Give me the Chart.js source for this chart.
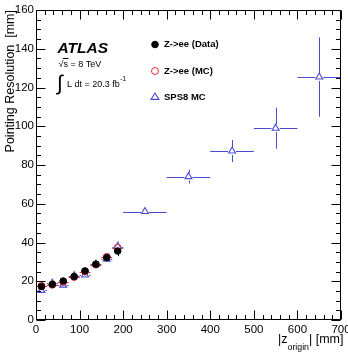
<!DOCTYPE html>
<html><head><meta charset="utf-8">
<script src="https://cdn.jsdelivr.net/npm/chart.js@4"></script>
<style>html,body{margin:0;padding:0;background:#fff}#wrap{width:348px;height:354px}</style>
</head><body><div id="wrap"><canvas id="c"></canvas></div>
<script>
// ---------- data ----------
const zCentres   = [12.5, 37.5, 62.5, 87.5, 112.5, 137.5, 162.5, 187.5];
const zHalfWidth = [12.5, 12.5, 12.5, 12.5, 12.5, 12.5, 12.5, 12.5];
const dataRes    = [17.3, 18.4, 20.1, 22.4, 25.3, 28.8, 32.2, 35.6];
const dataErr    = [1.3, 1.3, 1.3, 1.3, 1.4, 1.5, 1.8, 2.6];
const mcRes      = [17.6, 18.2, 19.6, 22.2, 25.0, 28.6, 32.6, 37.3];
const mcErr      = [0.8, 0.8, 0.8, 0.9, 0.9, 1.0, 1.2, 1.5];
const spsZ       = [12.5, 37.5, 62.5, 87.5, 112.5, 137.5, 162.5, 187.5, 250, 350, 450, 550, 650];
const spsZHalf   = [12.5, 12.5, 12.5, 12.5, 12.5, 12.5, 12.5, 12.5, 50, 50, 50, 50, 50];
const spsRes     = [15.3, 19.0, 18.0, 22.9, 23.2, 28.9, 31.4, 37.9, 56.0, 74.0, 87.2, 99.0, 125.4];
const spsErr     = [1.6, 1.8, 1.6, 1.6, 1.6, 1.6, 1.8, 2.6, 1.2, 3.6, 5.7, 10.6, 20.5];
const xTicks = [0, 100, 200, 300, 400, 500, 600, 700];
const yTicks = [0, 20, 40, 60, 80, 100, 120, 140, 160];
const xMinorStep = 20, yMinorStep = 5;
const legendLabels = ['Z->ee (Data)', 'Z->ee (MC)', 'SPS8 MC'];
const xTitle = ['|z', 'origin', '| [mm]'];
const yTitle = 'Pointing Resolution  [mm]';
const atlasLabel = 'ATLAS';
const energyLabel = 's = 8 TeV';
const lumiLabel = ['L dt = 20.3 fb', '-1'];

const FONT = '"Liberation Sans", Arial, Helvetica, sans-serif';
const BLUE = '#4b4bd6';
const RED = '#ee2a3a';

const pts = (xs, ys) => xs.map((x, i) => ({x: x, y: ys[i]}));

const datasets = [
  {label: legendLabels[0], data: pts(zCentres, dataRes), xErr: zCentres.map(() => 0), yErr: dataErr,
   pointStyle: 'circle', pointRadius: 3.3, backgroundColor: '#000', borderColor: '#000', borderWidth: 1, errColor: '#000'},
  {label: legendLabels[1], data: pts(zCentres, mcRes), xErr: zHalfWidth, yErr: mcErr,
   pointStyle: 'circle', pointRadius: 3.5, backgroundColor: 'rgba(0,0,0,0)', borderColor: RED, borderWidth: 1, errColor: RED},
  {label: legendLabels[2], data: pts(spsZ, spsRes), xErr: spsZHalf, yErr: spsErr,
   pointStyle: 'triangle', pointRadius: 4, backgroundColor: '#fff', borderColor: BLUE, borderWidth: 1.1, errColor: BLUE}
];

// ---------- plugins ----------
const errorBars = {
  id: 'errorBars',
  beforeDatasetsDraw(chart) {
    const {ctx, scales: {x, y}} = chart;
    ctx.save();
    ctx.lineWidth = 1;
    chart.data.datasets.forEach(ds => {
      ctx.strokeStyle = ds.errColor;
      const gap = ds.pointRadius;
      ds.data.forEach((p, i) => {
        const px = x.getPixelForValue(p.x), py = y.getPixelForValue(p.y);
        const x0 = x.getPixelForValue(p.x - ds.xErr[i]), x1 = x.getPixelForValue(p.x + ds.xErr[i]);
        const y0 = y.getPixelForValue(p.y - ds.yErr[i]), y1 = y.getPixelForValue(p.y + ds.yErr[i]);
        ctx.beginPath();
        const ry = Math.round(py) + 0.5, rx = Math.round(px) + 0.5;
        if (px - x0 > gap) { ctx.moveTo(x0, ry); ctx.lineTo(px - gap, ry); ctx.moveTo(px + gap, ry); ctx.lineTo(x1, ry); }
        if (y0 - py > gap) { ctx.moveTo(rx, y0); ctx.lineTo(rx, py + gap); ctx.moveTo(rx, py - gap); ctx.lineTo(rx, y1); }
        ctx.stroke();
      });
    });
    ctx.restore();
  }
};

const frameTicks = {
  id: 'frameTicks',
  afterDraw(chart) {
    const {ctx, chartArea: a, scales: {x, y}} = chart;
    const L = Math.round(a.left) + 0.5, R = Math.round(a.right) - 0.5;
    const T = Math.round(a.top) + 0.5, B = Math.round(a.bottom) - 0.5;
    ctx.save();
    ctx.strokeStyle = '#000'; ctx.lineWidth = 1;
    ctx.strokeRect(L, T, R - L, B - T);
    ctx.beginPath();
    for (let v = x.min; v <= x.max + 1e-6; v += xMinorStep) {
      const px = Math.round(x.getPixelForValue(v)) + 0.5;
      const len = xTicks.includes(v) ? 9 : 4.5;
      ctx.moveTo(px, B); ctx.lineTo(px, B - len);
      ctx.moveTo(px, T); ctx.lineTo(px, T + len);
    }
    for (let v = y.min; v <= y.max + 1e-6; v += yMinorStep) {
      const py = Math.round(y.getPixelForValue(v)) + 0.5;
      const len = yTicks.includes(v) ? 9 : 4.5;
      ctx.moveTo(L, py); ctx.lineTo(L + len, py);
      ctx.moveTo(R, py); ctx.lineTo(R - len, py);
    }
    ctx.stroke();

    // axis titles
    ctx.fillStyle = '#000';
    ctx.font = '12.5px ' + FONT;
    ctx.save();
    ctx.translate(14, a.top);
    ctx.rotate(-Math.PI / 2);
    ctx.textAlign = 'right'; ctx.textBaseline = 'alphabetic';
    ctx.fillText(yTitle, 0, 0);
    ctx.restore();

    ctx.textAlign = 'left'; ctx.textBaseline = 'alphabetic';
    let tx = 278;
    ctx.font = '12.5px ' + FONT;
    ctx.fillText(xTitle[0], tx, 342.5); tx += ctx.measureText(xTitle[0]).width;
    ctx.font = '8.8px ' + FONT;
    ctx.fillText(xTitle[1], tx, 349.5); tx += ctx.measureText(xTitle[1]).width;
    ctx.font = '12.5px ' + FONT;
    ctx.fillText(xTitle[2], tx, 342.5);

    // ATLAS label
    ctx.font = 'italic bold 15.5px ' + FONT;
    ctx.fillText(atlasLabel, 57.5, 52.5);
    ctx.font = '9px ' + FONT;
    ctx.fillText('\u221A', 58.5, 66.5);
    const sx = 58.5 + ctx.measureText('\u221A').width;
    ctx.fillText(energyLabel, sx, 66.5);
    ctx.beginPath();
    ctx.moveTo(sx - 0.5, 58.5); ctx.lineTo(sx + ctx.measureText('s').width + 0.5, 58.5);
    ctx.stroke();
    ctx.font = '21px ' + FONT;
    ctx.fillText('\u222B', 57, 90);
    ctx.font = '9px ' + FONT;
    ctx.fillText(lumiLabel[0], 67, 87);
    const lx = 67 + ctx.measureText(lumiLabel[0]).width;
    ctx.font = '6.5px ' + FONT;
    ctx.fillText(lumiLabel[1], lx + 0.5, 80.5);

    // legend
    const ly = [44.5, 71, 97];
    ctx.font = 'bold 9.5px ' + FONT;
    ctx.textBaseline = 'middle';
    chart.data.datasets.forEach((ds, i) => {
      const cx = 155, cy = ly[i];
      ctx.lineWidth = ds.borderWidth;
      ctx.strokeStyle = ds.borderColor; ctx.fillStyle = ds.backgroundColor;
      ctx.beginPath();
      if (ds.pointStyle === 'circle') {
        ctx.arc(cx, cy, ds.pointRadius, 0, Math.PI * 2);
      } else {
        const r = ds.pointRadius;
        ctx.moveTo(cx, cy - r); ctx.lineTo(cx + r * 0.866 * 1.15, cy + r * 0.6); ctx.lineTo(cx - r * 0.866 * 1.15, cy + r * 0.6); ctx.closePath();
      }
      ctx.fill(); ctx.stroke();
      ctx.fillStyle = '#000';
      ctx.fillText(ds.label, 164, cy);
    });
    ctx.restore();
  }
};

new Chart(document.getElementById('c'), {
  type: 'scatter',
  data: {datasets: datasets},
  options: {
    responsive: true, maintainAspectRatio: false, animation: false,
    devicePixelRatio: 1,
    layout: {padding: {top: 10, right: 7, left: 0, bottom: 0}},
    plugins: {legend: {display: false}, tooltip: {enabled: false}},
    scales: {
      x: {
        type: 'linear', min: 0, max: 700,
        grid: {display: false, drawTicks: false}, border: {display: false},
        afterBuildTicks: s => { s.ticks = xTicks.map(v => ({value: v})); },
        afterFit: s => { s.height = 34; s.paddingLeft = 0; s.paddingRight = 0; },
        ticks: {autoSkip: false, maxRotation: 0, padding: 3, color: '#000', font: {family: FONT, size: 11.5}}
      },
      y: {
        type: 'linear', min: 0, max: 160,
        grid: {display: false, drawTicks: false}, border: {display: false},
        afterBuildTicks: s => { s.ticks = yTicks.map(v => ({value: v})); },
        afterFit: s => { s.width = 36; s.paddingTop = 0; s.paddingBottom = 0; },
        ticks: {autoSkip: false, padding: 2, color: '#000', font: {family: FONT, size: 11.5}}
      }
    }
  },
  plugins: [errorBars, frameTicks]
});
</script></body></html>
